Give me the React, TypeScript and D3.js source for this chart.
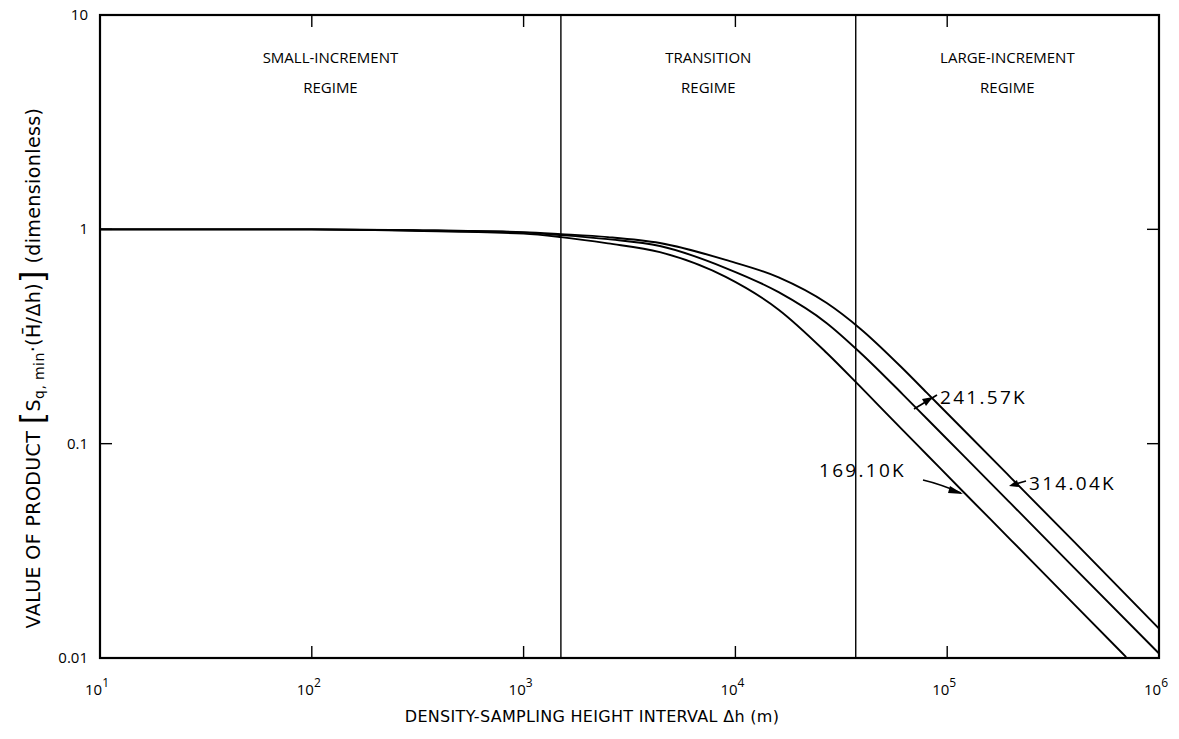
import React from "react";
import * as d3 from "d3";

const W = 1179;
const H = 739;
const margin = { left: 100, right: 20, top: 15, bottom: 81 };

// Data
const xValues = [10, 100, 300, 1000, 1500, 2500, 4400, 9000, 16000, 27000, 39000, 62000, 80000, 120000, 200000, 400000, 1000000];
const curve314 = [1.0, 1.0, 0.99, 0.97, 0.95, 0.92, 0.863, 0.72, 0.597, 0.453, 0.343, 0.223, 0.173, 0.1155, 0.0693, 0.0346, 0.0137];
const curve241 = [1.0, 1.0, 0.99, 0.965, 0.94, 0.9, 0.836, 0.66, 0.509, 0.365, 0.265, 0.169, 0.131, 0.0875, 0.0525, 0.0262, 0.0105];
const xValuesLow = [10, 100, 300, 1000, 1500, 2500, 4400, 9000, 16000, 27000, 39000, 62000, 80000, 120000, 200000, 400000, 700000];
const curve169 = [1.0, 1.0, 0.985, 0.955, 0.92, 0.86, 0.783, 0.6, 0.422, 0.265, 0.184, 0.115, 0.089, 0.0592, 0.0355, 0.0177, 0.0101];

const xTicks = [10, 100, 1000, 10000, 100000, 1000000];
const xTickExp = ["1", "2", "3", "4", "5", "6"];
const yTicks = [10, 1, 0.1, 0.01];
const yTickLabels = ["10", "1", "0.1", "0.01"];
const regimeBounds = [1500, 37000];
const regimeNames = [
  ["SMALL-INCREMENT", "REGIME"],
  ["TRANSITION", "REGIME"],
  ["LARGE-INCREMENT", "REGIME"],
];

const FONT = "'Open Sans', 'DejaVu Sans', sans-serif";
const WIDE = "'DejaVu Sans', 'Open Sans', sans-serif";

export default function App() {
  const x = d3.scaleLog().domain([10, 1e6]).range([margin.left, W - margin.right]);
  const y = d3.scaleLog().domain([0.01, 10]).range([H - margin.bottom, margin.top]);
  const x0 = x.range()[0], x1 = x.range()[1];
  const y0 = y.range()[0], y1 = y.range()[1];

  const line = d3
    .line<[number, number]>()
    .x((d) => x(d[0]))
    .y((d) => y(d[1]))
    .curve(d3.curveMonotoneX);

  const series = [
    { xs: xValues, ys: curve314 },
    { xs: xValues, ys: curve241 },
    { xs: xValuesLow, ys: curve169 },
  ];

  const regimeEdges = [x0, x(regimeBounds[0]), x(regimeBounds[1]), x1];

  return (
    <svg width={W} height={H} style={{ position: "absolute", left: 0, top: 0, background: "#fff" }}>
      <rect x={0} y={0} width={W} height={H} fill="#fff" />
      <defs>
        <clipPath id="plot">
          <rect x={x0} y={y1} width={x1 - x0} height={y0 - y1} />
        </clipPath>
      </defs>
      {/* curves */}
      <g clipPath="url(#plot)">
        {series.map((s, i) => (
          <path
            key={i}
            d={line(s.xs.map((v, j) => [v, s.ys[j]] as [number, number])) || ""}
            fill="none"
            stroke="#000"
            strokeWidth={1.9}
          />
        ))}
      </g>
      {/* regime dividers */}
      {regimeBounds.map((b, i) => (
        <line key={i} x1={x(b)} x2={x(b)} y1={y1} y2={y0} stroke="#000" strokeWidth={1.4} />
      ))}
      {/* frame */}
      <rect x={x0} y={y1} width={x1 - x0} height={y0 - y1} fill="none" stroke="#000" strokeWidth={2.2} />
      {/* x ticks (bottom and top, inward) */}
      {xTicks.slice(1, -1).map((t, i) => (
        <g key={i}>
          <line x1={x(t)} x2={x(t)} y1={y0} y2={y0 - 12} stroke="#000" strokeWidth={1.4} />
          <line x1={x(t)} x2={x(t)} y1={y1} y2={y1 + 12} stroke="#000" strokeWidth={1.4} />
        </g>
      ))}
      {/* y ticks (left and right, inward) */}
      {yTicks.slice(1, -1).map((t, i) => (
        <g key={i}>
          <line x1={x0} x2={x0 + 12} y1={y(t)} y2={y(t)} stroke="#000" strokeWidth={1.4} />
          <line x1={x1} x2={x1 - 12} y1={y(t)} y2={y(t)} stroke="#000" strokeWidth={1.4} />
        </g>
      ))}
      {/* y tick labels */}
      {yTicks.map((t, i) => (
        <text key={i} x={x0 - 12} y={y(t) + 5} textAnchor="end" fontFamily={FONT} fontSize={15} fill="#000">
          {yTickLabels[i]}
        </text>
      ))}
      {/* x tick labels */}
      {xTicks.map((t, i) => (
        <text key={i} x={x(t) - 3} y={y0 + 37} textAnchor="middle" fontFamily={FONT} fontSize={15} fill="#000">
          10
          <tspan dy={-8} fontSize={12}>{xTickExp[i]}</tspan>
        </text>
      ))}
      {/* regime labels */}
      {regimeNames.map((nm, i) => {
        const cx = (regimeEdges[i] + regimeEdges[i + 1]) / 2;
        return (
          <g key={i}>
            <text x={cx} y={63} textAnchor="middle" fontFamily={FONT} fontSize={15} fill="#000">{nm[0]}</text>
            <text x={cx} y={93} textAnchor="middle" fontFamily={FONT} fontSize={15} fill="#000">{nm[1]}</text>
          </g>
        );
      })}
      {/* curve labels with arrows */}
      <text x={940} y={404} fontFamily={FONT} fontSize={19} letterSpacing={2.3} fill="#000">241.57K</text>
      <line x1={937} y1={395} x2={914} y2={409} stroke="#000" strokeWidth={1.7} />
      <path d="M 933 397 L 922 399 L 926 406 Z" fill="#000" />
      <text x={1029} y={490} fontFamily={FONT} fontSize={19} letterSpacing={2.3} fill="#000">314.04K</text>
      <line x1={1026} y1={481} x2={1012} y2={485} stroke="#000" strokeWidth={1.6} />
      <path d="M 1009 486 L 1017 480 L 1019 487 Z" fill="#000" />
      <text x={819} y={477} fontFamily={FONT} fontSize={19} letterSpacing={2.3} fill="#000">169.10K</text>
      <path d="M 923 480 Q 940 484 961 493" fill="none" stroke="#000" strokeWidth={1.6} />
      <path d="M 963 494 L 950 486 L 948 493 Z" fill="#000" />
      {/* x axis title */}
      <text x={592} y={722} textAnchor="middle" fontFamily={WIDE} fontSize={16} letterSpacing={0.3} fill="#000">
        DENSITY-SAMPLING HEIGHT INTERVAL Δh (m)
      </text>
      {/* y axis title */}
      <text
        transform={`translate(40, 368) rotate(-90)`}
        textAnchor="middle"
        fontFamily={WIDE}
        fontSize={19}
        letterSpacing={0.4}
        fill="#000"
      >
        VALUE OF PRODUCT{"  "}
        <tspan fontSize={32} dy={3}>[</tspan>
        <tspan dy={-3}>S</tspan>
        <tspan fontSize={14} dy={4}>q, min</tspan>
        <tspan dy={-4}>·(H̄/Δh)</tspan>
        <tspan fontSize={32} dy={3}>]</tspan>
        <tspan dy={-3}>{"  "}(dimensionless)</tspan>
      </text>
    </svg>
  );
}
